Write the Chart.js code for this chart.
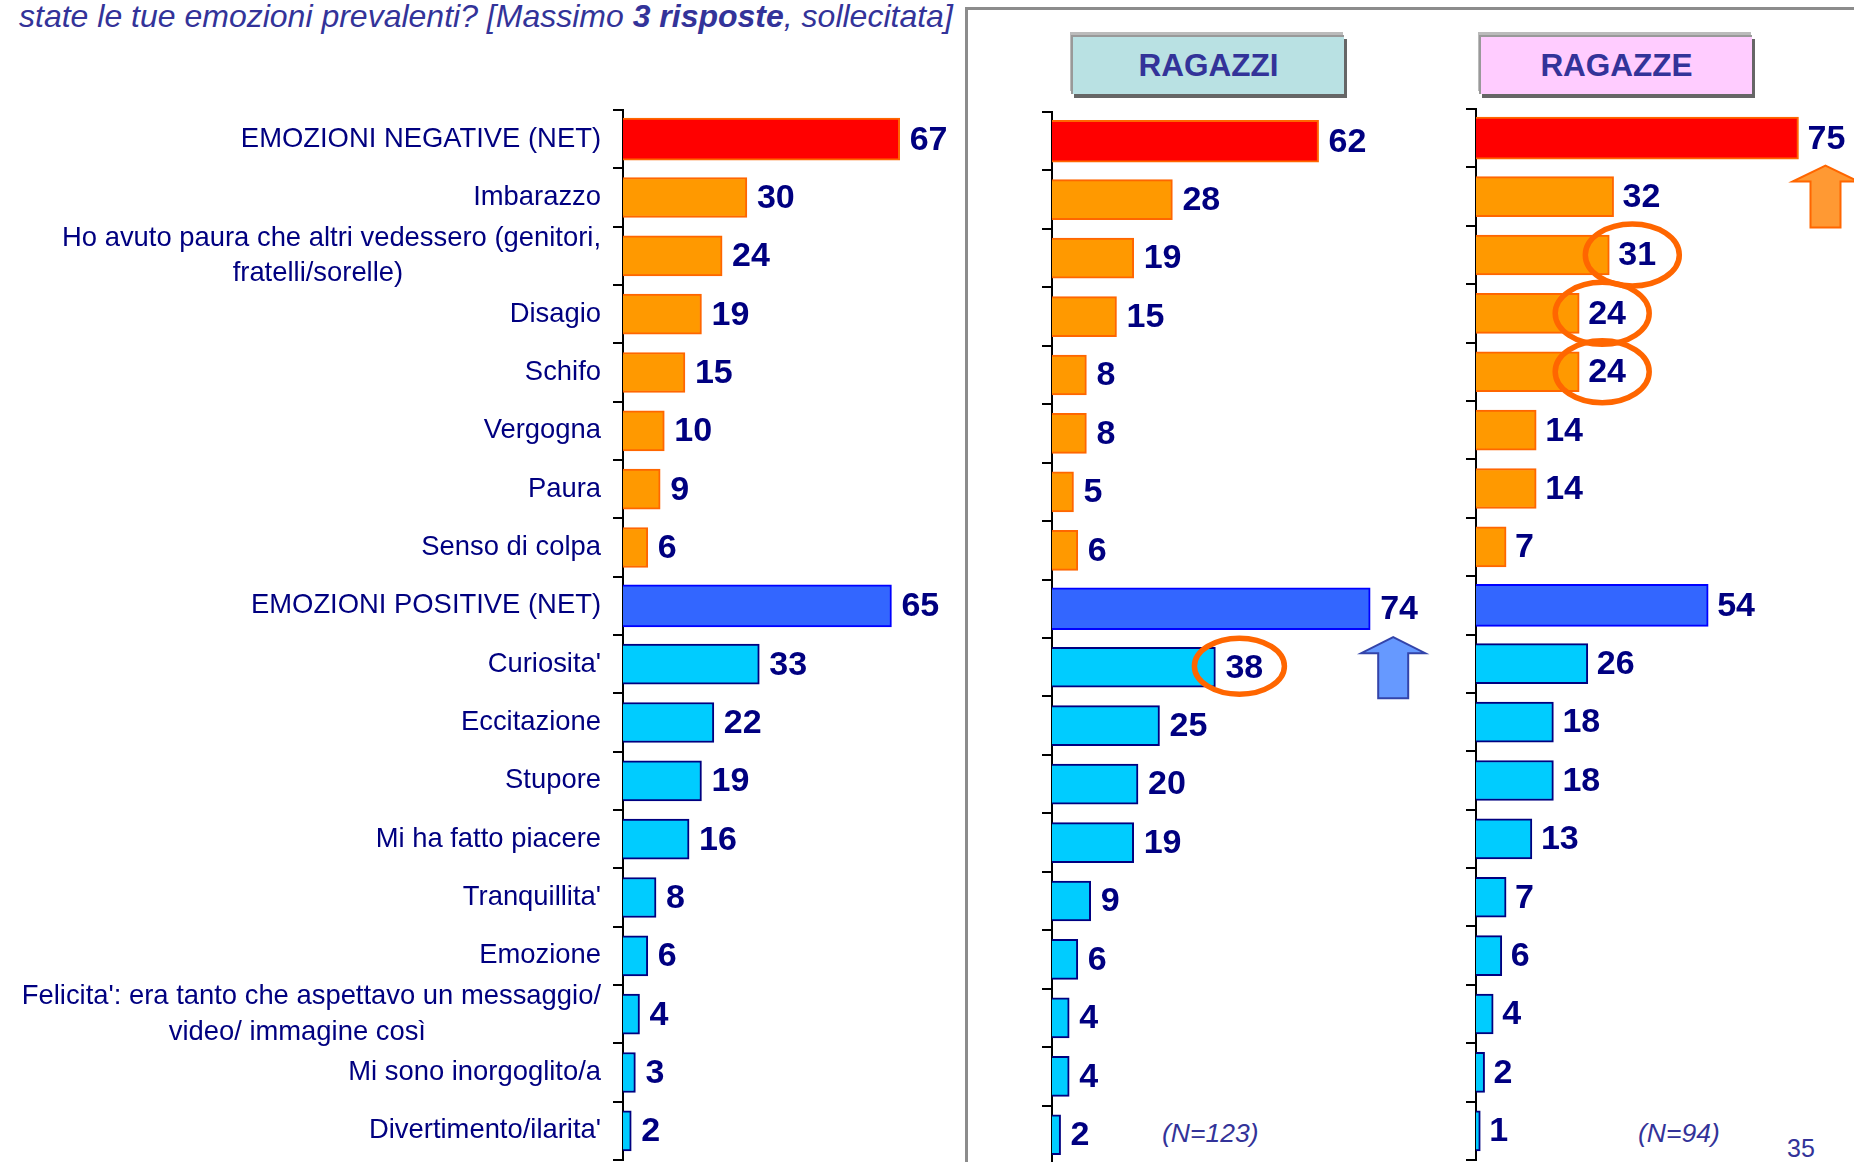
<!DOCTYPE html>
<html>
<head>
<meta charset="utf-8">
<script src="https://cdn.jsdelivr.net/npm/chart.js@4"></script>
<style>
html,body{margin:0;padding:0;width:1854px;height:1162px;overflow:hidden;background:#fff;font-family:"Liberation Sans",Arial,sans-serif}
canvas{position:absolute;top:0}
.t{position:absolute;white-space:nowrap;color:#333399}
.box{position:absolute;top:35px;width:273px;height:59px;box-sizing:border-box;border-top:2px solid #999;border-left:2px solid #999;box-shadow:-1px -3px 0 #bbb,3px 4px 0 #666;text-align:center;font:bold 31.5px/56px "Liberation Sans";color:#333399}
#frame{position:absolute;left:965px;top:7px;width:900px;height:1200px;border-left:3px solid #8c8c8c;border-top:3px solid #8c8c8c}
</style>
</head>
<body>
<div id="frame"></div>
<div class="t" style="left:19px;top:-2px;font:italic 32px 'Liberation Sans'">state le tue emozioni prevalenti? [Massimo <b>3 risposte</b>, sollecitata]</div>
<div class="box" style="left:1071px;background:#B9E1E3">RAGAZZI</div>
<div class="box" style="left:1479px;background:#FFCCFF">RAGAZZE</div>
<div class="t" style="left:1162px;top:1118px;font:italic 26.5px 'Liberation Sans'">(N=123)</div>
<div class="t" style="left:1638px;top:1118px;font:italic 26.5px 'Liberation Sans'">(N=94)</div>
<div class="t" style="left:1787px;top:1134px;font:25px 'Liberation Sans'">35</div>
<canvas id="c1"></canvas>
<canvas id="c2"></canvas>
<canvas id="c3"></canvas>
<script>
const categories = [
  "EMOZIONI NEGATIVE (NET)", "Imbarazzo",
  ["Ho avuto paura che altri vedessero (genitori,", "fratelli/sorelle)"],
  "Disagio", "Schifo", "Vergogna", "Paura", "Senso di colpa",
  "EMOZIONI POSITIVE (NET)", "Curiosita'", "Eccitazione", "Stupore",
  "Mi ha fatto piacere", "Tranquillita'", "Emozione",
  ["Felicita': era tanto che aspettavo un messaggio/", "video/ immagine così"],
  "Mi sono inorgoglito/a", "Divertimento/ilarita'"
];
const totalValues = [67,30,24,19,15,10,9,6,65,33,22,19,16,8,6,4,3,2];
const boysValues  = [62,28,19,15,8,8,5,6,74,38,25,20,19,9,6,4,4,2];
const girlsValues = [75,32,31,24,24,14,14,7,54,26,18,18,13,7,6,4,2,1];
const netIndexes = [0,8];
const negativeCount = 8;
const boysCircled = [9];
const girlsCircled = [2,3,4];

const LABEL_FONT = "27.4px 'Liberation Sans'";
const measure = document.createElement('canvas').getContext('2d');
measure.font = LABEL_FONT;
const spaceW = measure.measureText(' ').width;
function centreLines(lines){
  if(!Array.isArray(lines)) return lines;
  const w = lines.map(l=>measure.measureText(l).width), m = Math.max(...w);
  return lines.map((l,i)=>l+(w[i]<m?' '.repeat(Math.round((m-w[i])/2/spaceW)+2):''));
}
function fillFor(i){ return i===0?'#FF0000': i<negativeCount?'#FF9900': i===8?'#3366FF':'#00CCFF'; }
function edgeFor(i){ return i<negativeCount?'#FF6600': i===8?'#0000FF':'#000080'; }

function arrow(ctx,cx,tip,headY,bottom,halfHead,halfShaft,fill,stroke){
  ctx.save();ctx.beginPath();
  ctx.moveTo(cx,tip);ctx.lineTo(cx+halfHead,headY);ctx.lineTo(cx+halfShaft,headY);
  ctx.lineTo(cx+halfShaft,bottom);ctx.lineTo(cx-halfShaft,bottom);ctx.lineTo(cx-halfShaft,headY);
  ctx.lineTo(cx-halfHead,headY);ctx.closePath();
  ctx.fillStyle=fill;ctx.fill();ctx.lineWidth=2;ctx.strokeStyle=stroke;ctx.stroke();ctx.restore();
}

function makePanel(id,values,opt){
  const cv=document.getElementById(id);
  cv.width=opt.axisX+opt.plotWidth; cv.height=1240;
  cv.style.left=(opt.left||0)+'px';
  const axisWidth=opt.axisX;
  const sets=[
    {data:values.map((v,i)=>netIndexes.includes(i)?null:v),barThickness:40},
    {data:values.map((v,i)=>netIndexes.includes(i)?v:null),barThickness:42}
  ].map(d=>Object.assign(d,{
    backgroundColor:c=>fillFor(c.dataIndex),
    borderColor:c=>edgeFor(c.dataIndex),
    borderWidth:2,borderSkipped:'left',grouped:false
  }));
  new Chart(cv,{
    type:'bar',
    data:{labels:categories,datasets:sets},
    options:{
      indexAxis:'y',responsive:false,animation:false,events:[],
      layout:{padding:{top:opt.top,bottom:1240-opt.bottom,left:0,right:0}},
      plugins:{legend:{display:false},tooltip:{enabled:false},title:{display:false}},
      scales:{
        x:{display:false,min:0,max:100},
        y:{
          afterFit:s=>{s.width=axisWidth;},
          border:{display:true,color:'#000',width:2},
          grid:{display:true,drawOnChartArea:false,drawTicks:true,tickLength:10,color:'#000',lineWidth:2,offset:true},
          ticks:{
            display:opt.labels,autoSkip:false,padding:12,color:'#000080',
            font:{family:'Liberation Sans',size:27.4,lineHeight:1.3},
            callback:function(v){return centreLines(categories[v]);}
          }
        }
      }
    },
    plugins:[{
      id:'annot',
      afterDatasetsDraw(ch){
        const c=ch.ctx,x=ch.scales.x,y=ch.scales.y;
        c.save();
        (opt.circled||[]).forEach(i=>{
          c.beginPath();
          c.ellipse(x.getPixelForValue(values[i])+opt.circleDx,y.getPixelForValue(i)+opt.circleDy,opt.rx,opt.ry,0,0,Math.PI*2);
          c.lineWidth=5.5;c.strokeStyle='#FF6600';c.stroke();
        });
        c.font="bold 34px 'Liberation Sans'";c.fillStyle='#000080';c.textAlign='left';c.textBaseline='middle';
        values.forEach((v,i)=>c.fillText(String(v),x.getPixelForValue(v)+opt.labelGap,y.getPixelForValue(i)+1));
        c.restore();
        if(opt.arrow)opt.arrow(c,x,y);
      }
    }]
  });
}
makePanel('c1',totalValues,{axisX:623,plotWidth:413,top:110,bottom:1160,labels:true,labelGap:10});
makePanel('c2',boysValues,{left:1040,axisX:12,plotWidth:430,top:112,bottom:1164,labels:false,labelGap:10,circled:boysCircled,circleDx:24,circleDy:-1,rx:45,ry:28,
  arrow:(c,x,y)=>arrow(c,x.getPixelForValue(boysValues[8])+23,y.getPixelForValue(9)-30,y.getPixelForValue(9)-14,y.getPixelForValue(9)+31,32,15,'#6699FF','#3344AA')});
makePanel('c3',girlsValues,{left:1464,axisX:12,plotWidth:430,top:109,bottom:1160,labels:false,labelGap:9,circled:girlsCircled,circleDx:23,circleDy:0,rx:47,ry:31,
  arrow:(c,x,y)=>arrow(c,x.getPixelForValue(girlsValues[0])+27,y.getPixelForValue(1)-31,y.getPixelForValue(1)-15,y.getPixelForValue(1)+31,33,15,'#FF9933','#FF6600')});
</script>
</body>
</html>
